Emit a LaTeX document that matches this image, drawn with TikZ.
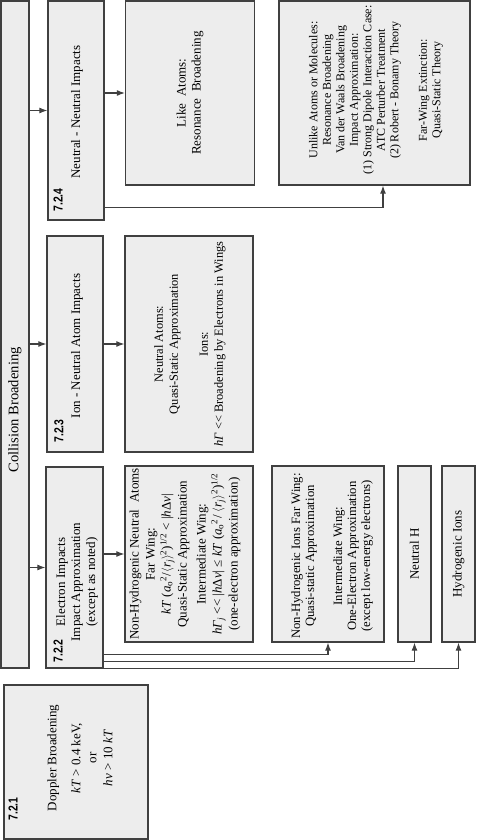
\documentclass[tikz,border=0pt]{standalone}
\usepackage{fontspec}
\setmainfont{Liberation Serif}
\newfontfamily\secfont[FakeStretch=0.8]{Liberation Sans}
\usetikzlibrary{arrows.meta,calc}

\newcommand{\rj}{$\langle$\textit{r}\textsubscript{\textit{j}}$\rangle$}
\newcommand{\mless}{<{}<}

\tikzset{
  box/.style={draw=black!75, fill=black!7, line width=1.3pt, inner sep=0pt},
  txt/.style={rotate=90, align=center, inner sep=0pt, font=\fontsize{13}{15}\selectfont},
  small/.style={font=\fontsize{12}{13.5}\selectfont},
  sec/.style={rotate=90, inner sep=0pt, font=\secfont\bfseries\fontsize{13}{15}\selectfont},
  conn/.style={draw=black!75, line width=1.1pt},
  arr/.style={conn, -{Latex[length=8pt,width=6pt]}},
}

\begin{document}
\begin{tikzpicture}[x=1pt, y=1pt]
  \useasboundingbox (0,0) rectangle (477,-840);

  % top bar
  \node[box, minimum width=28, minimum height=667] (banner) at (15,-334.5) {};
  \node[txt, font=\fontsize{14.6}{17}\selectfont] (tbanner) at (15,-410) {Collision Broadening};

  % 7.2.1
  \node[box, minimum width=144, minimum height=154] (doppler) at (76,-762) {};
  \node[sec] (s721) at (13,-809) {7.2.1};
  \node[txt, font=\fontsize{13}{16}\selectfont] (tdoppler) at (80,-758)
    {Doppler Broadening\\[8pt] \textit{kT} > 0.4 keV,\\ or\\ \textit{hν} > 10 \textit{kT}};

  % section boxes
  \node[box, minimum width=57, minimum height=201] (b722) at (74.5,-567.5) {};
  \node[sec] (s722) at (58,-651) {7.2.2};
  \node[txt] (t722) at (77,-582) {Electron Impacts\\ Impact Approximation\\ (except as noted)};

  \node[box, minimum width=56, minimum height=216] (b723) at (75,-344) {};
  \node[sec] (s723) at (59,-431) {7.2.3};
  \node[txt] (t723) at (77,-346) {Ion - Neutral Atom Impacts};

  \node[box, minimum width=56, minimum height=219] (b724) at (76,-110.5) {};
  \node[sec] (s724) at (58,-200) {7.2.4};
  \node[txt] (t724) at (77,-112) {Neutral - Neutral Impacts};

  % second column
  \node[box, minimum width=128, minimum height=176] (neutatoms) at (189,-554) {};
  \node[txt, font=\fontsize{13}{16}\selectfont] (tneutatoms) at (185,-554)
    {Non-Hydrogenic Neutral\ \ Atoms\\ Far Wing:\\
     \textit{kT} (\textit{a}\textsubscript{o}\textsuperscript{2}/\rj\textsuperscript{2})\textsuperscript{1/2} < |\textit{h}Δ\textit{ν}|\\
     Quasi-Static Approximation\\[3pt]
     Intermediate Wing:\\
     \textit{hΓ}\textsubscript{\textit{j}} \mless{} |\textit{h}Δ\textit{ν}| ≤ \textit{kT} (\textit{a}\textsubscript{o}\textsuperscript{2}/ \rj\textsuperscript{2})\textsuperscript{1/2}\\
     (one-electron approximation)};

  \node[box, minimum width=128, minimum height=216] (neuions) at (189,-344) {};
  \node[txt, font=\fontsize{12.4}{15}\selectfont] (tneuions) at (190,-344)
    {Neutral Atoms:\\ Quasi-Static Approximation\\[15pt] Ions:\\
     \textit{hΓ} \mless{} Broadening by Electrons in Wings};

  \node[box, minimum width=129, minimum height=184] (likeatoms) at (190,-93) {};
  \node[txt] (tlikeatoms) at (190,-93) {Like\ \ Atoms:\\ Resonance\ \ Broadening};

  % third column
  \node[box, minimum width=191, minimum height=184] (unlike) at (374.5,-93) {};
  \node[txt, small] (tunlike) at (376,-90)
    {Unlike Atoms or Molecules:\\ Resonance Broadening\\ Van der Waals Broadening\\
     Impact Approximation:\\ (1) Strong Dipole Interaction Case:\\
     ATC Perturber Treatment\\ (2) Robert - Bonamy Theory\\[15pt]
     Far-Wing Extinction:\\ Quasi-Static Theory};

  \node[box, minimum width=112, minimum height=176] (ionswing) at (328,-554) {};
  \node[txt, font=\fontsize{12.7}{14}\selectfont] (tionswing) at (332,-556)
    {Non-Hydrogenic Ions Far Wing:\\ Quasi-static Approximation\\[14pt]
     Intermediate Wing:\\ One-Electron Approximation\\ (except low-energy electrons)};

  \node[box, minimum width=33, minimum height=176] (neutH) at (414.5,-554) {};
  \node[txt] (tneutH) at (neutH) {Neutral H};

  \node[box, minimum width=33, minimum height=176] (hydions) at (458.5,-554) {};
  \node[txt] (thydions) at (hydions) {Hydrogenic Ions};

  % arrows from the bar
  \draw[arr] (banner.east |- b724.west) -- (b724.west);
  \draw[arr] (banner.east |- b723.west) -- (b723.west);
  \draw[arr] (banner.east |- b722.west) -- (b722.west);

  % arrows out of the sections
  \draw[arr] (b724.east |- likeatoms.west) -- (likeatoms.west);
  \draw[arr] (b723.east |- neuions.west) -- (neuions.west);
  \draw[arr] (b722.east |- neutatoms.west) -- (neutatoms.west);
  \draw[arr] ($(b724.south east)+(0,13)$) -| ($(unlike.south)+(8.5,0)$);
  \draw[arr] ($(b722.south east)+(0,14)$) -| (ionswing.south);
  \draw[arr] ($(b722.south east)+(0,7)$) -| (neutH.south);
  \draw[arr] (b722.south east) -| (hydions.south);

\end{tikzpicture}
\end{document}
